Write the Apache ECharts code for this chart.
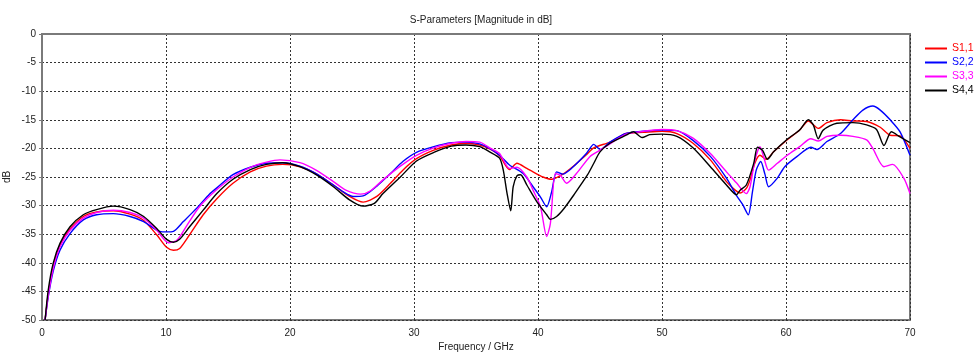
<!DOCTYPE html>
<html>
<head>
<meta charset="utf-8">
<script src="https://cdn.jsdelivr.net/npm/echarts@6/dist/echarts.min.js"></script>
<style>
html,body{margin:0;padding:0;background:#fff;}
#chart{width:975px;height:355px;}
</style>
</head>
<body>
<div id="chart"></div>
<script>
var titleText = 'S-Parameters [Magnitude in dB]';
var xName = 'Frequency / GHz';
var yName = 'dB';
var seriesNames = ['S1,1', 'S2,2', 'S3,3', 'S4,4'];
var seriesColors = ['#ff0000', '#0000ff', '#ff00ff', '#000000'];

var s11Freq = [0.25,0.5,0.9,1.45,2.26,3.33,4.4,5.75,7.1,8.2,9.25,10.05,10.6,11.1,11.9,13.0,14.1,15.4,16.8,18.1,19.4,20.8,22.1,23.5,24.8,25.9,27.0,28.1,29.1,30.2,31.6,33.0,34.2,35.3,36.1,36.9,37.7,38.3,39.1,39.6,40.4,41.1,42.0,42.8,43.9,44.5,45.8,47.1,48.5,50.0,51.2,52.5,53.9,55.2,55.9,56.3,56.8,57.1,57.5,57.9,58.4,59.0,60.1,61.1,61.8,62.6,63.3,64.4,65.4,66.5,67.6,68.4,69.2,70.0];
var s11Db = [-50,-45.5,-40.8,-36.9,-34.1,-31.9,-31.1,-30.9,-31.5,-32.6,-35.1,-37.3,-37.8,-37.5,-35.1,-31.6,-28.8,-26.1,-24.1,-23.1,-22.8,-23.2,-24.4,-26.4,-28.4,-29.4,-28.4,-26.1,-23.8,-21.8,-20.3,-19.4,-19.1,-19.4,-20.1,-21.3,-23.7,-22.6,-23.5,-24.1,-25.0,-25.4,-24.5,-23.2,-21.1,-19.9,-18.9,-17.4,-17.2,-17.0,-17.4,-19.1,-22.0,-25.8,-27.3,-27.8,-27.0,-25.5,-22.5,-21.2,-21.9,-20.6,-18.5,-16.8,-15.2,-16.5,-15.5,-15.0,-15.2,-15.3,-16.3,-17.7,-17.8,-20.0];

var s22Freq = [0.25,0.5,0.9,1.45,2.26,3.33,4.4,5.75,7.1,8.2,9.25,9.7,10.05,10.6,11.4,12.5,13.5,14.1,15.4,16.8,18.1,19.4,20.8,22.1,23.5,24.3,25.1,25.9,27.0,28.1,29.1,30.2,31.6,33.0,34.2,35.3,36.1,36.9,37.7,38.8,39.6,40.2,40.7,41.1,41.5,42.0,42.8,43.9,44.5,45.0,45.8,47.1,48.5,50.0,51.2,52.5,53.9,55.2,56.0,56.5,56.96,57.3,57.6,57.96,58.3,58.6,59.3,59.9,60.9,62.0,62.5,63.3,64.4,65.4,66.2,67.0,67.6,68.4,69.2,70.0];
var s22Db = [-50,-46,-41.5,-37.8,-34.9,-32.5,-31.6,-31.4,-31.9,-32.8,-34.3,-34.6,-34.6,-34.5,-32.8,-30.4,-28.0,-26.9,-24.6,-23.3,-22.6,-22.5,-23.1,-24.4,-26.4,-27.6,-28.4,-28.3,-26.6,-24.4,-22.3,-20.7,-19.7,-19.0,-18.9,-19.2,-20.0,-21.2,-22.9,-24.4,-26.7,-28.5,-30.2,-27.6,-24.1,-24.5,-23.3,-20.9,-19.3,-20.2,-18.9,-17.4,-17.0,-16.8,-16.9,-18.6,-21.4,-25.2,-28.2,-29.8,-31.6,-27.5,-23.8,-22.3,-24.5,-26.7,-25.2,-23.2,-21.4,-19.8,-20.2,-18.8,-17.4,-15.0,-13.3,-12.6,-13.3,-15.0,-17.1,-21.2];

var s33Freq = [0.25,0.5,0.9,1.45,2.26,3.33,4.4,5.75,7.1,8.2,9.25,10.2,10.9,11.7,12.7,14.1,15.4,16.8,18.1,19.2,20.8,22.1,23.5,24.5,25.7,26.5,27.5,28.9,30.2,31.6,33.0,34.2,35.3,36.1,36.9,37.7,38.3,39.1,39.6,40.2,40.7,41.0,41.4,41.8,42.3,43.1,44.2,45.0,45.8,47.1,48.5,50.0,51.2,52.5,53.9,55.2,56.0,56.8,57.1,57.5,57.9,58.2,58.6,59.3,60.1,61.1,62.0,62.6,63.3,64.4,65.4,66.5,67.0,67.9,68.6,69.5,70.0];
var s33Db = [-50,-45.8,-41,-37.2,-34.3,-32.2,-31.2,-30.8,-31.2,-32.2,-34.3,-36.5,-36.0,-33.4,-30.2,-27.2,-25.0,-23.3,-22.4,-22.0,-22.5,-23.8,-25.8,-27.3,-28.0,-27.4,-25.5,-23.1,-21.2,-19.9,-19.1,-18.8,-18.9,-19.9,-20.9,-23.5,-23.3,-25.0,-27.3,-30.2,-35.4,-33.1,-24.4,-24.7,-26.1,-24.4,-21.4,-20.3,-19.2,-17.5,-17.0,-16.7,-16.9,-18.2,-20.9,-24.1,-26.0,-27.9,-26.7,-22.0,-19.7,-21.5,-23.8,-22.6,-21.2,-19.7,-18.3,-18.7,-17.9,-17.7,-17.9,-18.5,-20.0,-23.2,-22.8,-25.2,-27.9];

var s44Freq = [0.25,0.5,0.9,1.45,2.26,3.33,4.4,5.75,7.1,8.2,9.25,10.05,10.6,11.1,11.9,13.0,14.1,15.4,16.8,18.1,19.4,20.8,22.1,23.5,24.8,25.9,26.8,27.5,28.9,30.2,31.6,33.0,34.2,35.3,36.1,36.9,37.2,37.5,37.8,38.0,38.3,38.6,39.1,39.9,40.7,41.0,41.5,42.1,42.9,44.0,44.5,45.0,45.8,47.1,47.7,48.4,49.0,50.0,51.2,52.5,53.9,55.2,56.0,56.3,56.8,57.4,57.7,58.1,58.5,59.0,60.1,61.1,61.8,62.2,62.6,63.0,64.1,65.4,66.5,67.3,67.9,68.5,69.2,70.0];
var s44Db = [-50,-44.8,-40.1,-36.6,-33.7,-31.6,-30.7,-30.1,-30.7,-31.9,-34.0,-35.9,-36.4,-35.9,-33.7,-30.8,-27.9,-25.4,-23.7,-22.8,-22.5,-23.2,-24.6,-26.7,-29.0,-30.1,-29.6,-27.9,-25.0,-22.2,-20.7,-19.6,-19.4,-19.7,-20.6,-21.7,-23.8,-27.8,-30.9,-26.7,-24.8,-24.6,-26.4,-29.3,-31.6,-32.4,-31.9,-30.5,-28.1,-24.6,-22.6,-20.6,-19.1,-17.7,-17.1,-18.1,-17.6,-17.5,-17.9,-19.9,-23.2,-26.4,-28.1,-27.3,-26.4,-22.6,-19.8,-20.3,-21.9,-20.6,-18.4,-16.8,-15.0,-15.9,-18.3,-16.8,-15.6,-15.5,-15.9,-16.7,-19.5,-17.1,-18.0,-19.0];

var xTicks = [0,10,20,30,40,50,60,70];
var yTicks = [-50,-45,-40,-35,-30,-25,-20,-15,-10,-5,0];

function zip(a, b) { return a.map(function (v, i) { return [v, b[i]]; }); }
var freqs = [s11Freq, s22Freq, s33Freq, s44Freq];
var dbs = [s11Db, s22Db, s33Db, s44Db];

var FONT = 'Liberation Sans';
var chart = echarts.init(document.getElementById('chart'), null, {renderer: 'canvas'});
chart.setOption({
  animation: false,
  backgroundColor: '#ffffff',
  textStyle: {fontFamily: FONT},
  title: {
    text: titleText, left: 476, top: 10, textAlign: 'center',
    textStyle: {fontFamily: FONT, fontSize: 10, fontWeight: 'normal', color: '#222'}
  },
  legend: {
    orient: 'vertical', left: 920, top: 37,
    itemWidth: 22, itemHeight: 2, itemGap: 1, icon: 'rect',
    textStyle: {fontFamily: FONT, fontSize: 10.5, lineHeight: 13},
    data: seriesNames.map(function (n, i) { return {name: n, textStyle: {color: seriesColors[i]}}; })
  },
  grid: {left: 42, right: 65, top: 34, bottom: 35, containLabel: false, outerBoundsMode: 'none',
         show: true, borderColor: '#7a7a7a', borderWidth: 2, backgroundColor: '#fff'},
  xAxis: {
    type: 'value', min: xTicks[0], max: xTicks[xTicks.length - 1], interval: 10,
    name: xName, nameLocation: 'middle', nameGap: 22, nameMoveOverlap: false,
    nameTextStyle: {fontFamily: FONT, fontSize: 10, color: '#222'},
    axisLine: {show: true, lineStyle: {color: '#7a7a7a', width: 2}},
    axisTick: {show: false},
    axisLabel: {fontFamily: FONT, fontSize: 10, color: '#222', margin: 8},
    splitLine: {show: true, lineStyle: {color: '#333', width: 1, type: [2, 2]}}
  },
  yAxis: {
    type: 'value', min: yTicks[0], max: yTicks[yTicks.length - 1], interval: 5,
    name: yName, nameLocation: 'middle', nameGap: 30, nameRotate: 90, nameMoveOverlap: false,
    nameTextStyle: {fontFamily: FONT, fontSize: 10, color: '#222'},
    axisLine: {show: true, lineStyle: {color: '#7a7a7a', width: 2}},
    axisTick: {show: true, length: 3, lineStyle: {color: '#7a7a7a'}},
    axisLabel: {fontFamily: FONT, fontSize: 10, color: '#222', margin: 6},
    splitLine: {show: true, lineStyle: {color: '#333', width: 1, type: [2, 2]}}
  },
  series: seriesNames.map(function (n, i) {
    return {
      name: n, type: 'line', showSymbol: false, symbol: 'none', smooth: 0.25,
      data: zip(freqs[i], dbs[i]),
      lineStyle: {color: seriesColors[i], width: 1.4},
      itemStyle: {color: seriesColors[i]},
      clip: true
    };
  })
});
</script>
</body>
</html>
